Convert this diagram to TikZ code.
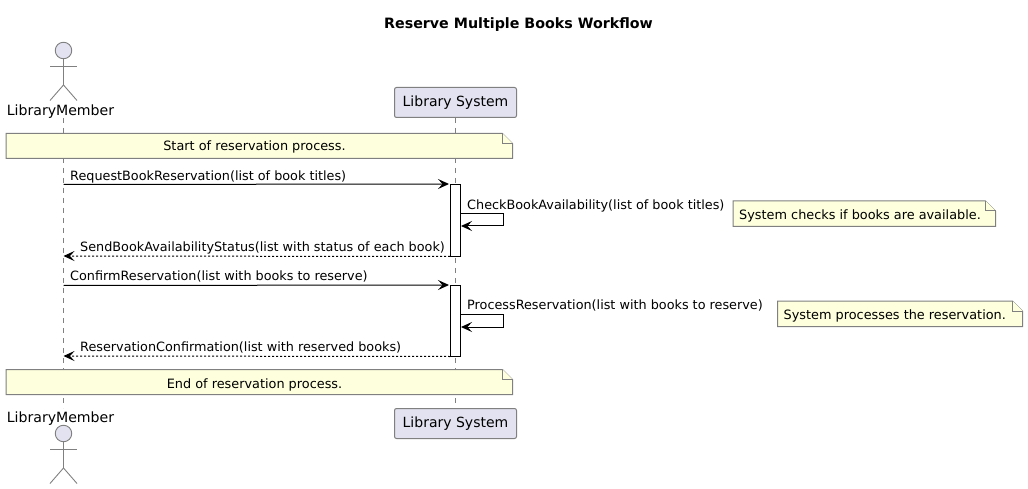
\documentclass[tikz,border=0pt]{standalone}
\usepackage{fontspec}
\setmainfont{DejaVu Sans}
\usetikzlibrary{arrows.meta}
\definecolor{partfill}{HTML}{E2E2F0}
\definecolor{notefill}{HTML}{FEFFDD}
\definecolor{edgegray}{HTML}{808080}
\tikzset{
  lifeline/.style={draw=edgegray,line width=0.9pt,dash pattern=on 5pt off 5pt},
  partbox/.style={draw=edgegray,fill=partfill,line width=1pt,rounded corners=2pt,minimum width=122pt,minimum height=30pt,inner sep=0pt,text depth=3pt,text height=11pt,font=\fontsize{14}{16}\selectfont},
  actorname/.style={inner sep=0pt,font=\fontsize{14.1}{16}\selectfont},
  limb/.style={draw=edgegray,line width=0.9pt},
  notebody/.style={draw=edgegray,fill=notefill,line width=1pt},
  notetext/.style={inner sep=0pt,anchor=base,font=\fontsize{12.85}{15}\selectfont},
  msglabel/.style={inner sep=0pt,anchor=base west,font=\fontsize{12.8}{15}\selectfont},
  activation/.style={draw=black,fill=white,line width=1pt,minimum width=10pt,inner sep=0pt},
  msg/.style={draw=black,line width=1pt,-{Stealth[length=11pt,width=10pt,inset=4.5pt]}},
  reply/.style={msg,dash pattern=on 2pt off 2pt},
}
% a stick figure, #1 is the y of the head
\newcommand{\stickman}[3]{
  \node[circle,draw=edgegray,fill=partfill,line width=0.9pt,minimum size=16.5pt,inner sep=0pt] (#2) at (63.5,#1) {};
  \coordinate (#3) at (63.5,#1+34.5);
  \draw[limb] (#2) -- (#3);
  \draw[limb] (50,#1+15.5) -- (77,#1+15.5);
  \draw[limb] (#3) -- ++(-13.5,15.5);
  \draw[limb] (#3) -- ++(13.5,15.5);
}
% a note with a folded corner: left, top, right, bottom, name
\newcommand{\notebox}[5]{
  \draw[notebody] (#1,#2) -- (#3-10,#2) -- (#3,#2+10) -- (#3,#4) -- (#1,#4) -- cycle;
  \draw[notebody] (#3-10,#2) -- (#3-10,#2+10) -- (#3,#2+10);
  \coordinate (#5) at ({(#1+#3)/2},#2);
}
\begin{document}
\begin{tikzpicture}[x=1pt,y=-1pt]
\useasboundingbox (0,0) rectangle (1028,489);
\node[inner sep=0pt,anchor=base,font=\fontsize{14.25}{16}\selectfont\bfseries] (title) at (518.5,28.5) {Reserve Multiple Books Workflow};

% participants
\node[actorname] (memberTop) at (60.5,112) {LibraryMember};
\node[actorname] (memberBot) at (60.5,419) {LibraryMember};
\node[partbox] (systemTop) at (455.5,102.5) {Library System};
\node[partbox] (systemBot) at (455.5,423.5) {Library System};
\coordinate (memberStart) at (63.5,118);
\coordinate (memberEnd) at (63.5,408);

% lifelines
\draw[lifeline] (memberStart) -- (memberEnd);
\draw[lifeline] (systemTop.south) -- (systemBot.north);
\stickman{50.5}{headTop}{hipTop}
\stickman{433.5}{headBot}{hipBot}

% notes
\notebox{6}{133.5}{512.5}{158.5}{noteStart}
\notebox{6}{369.5}{512.5}{394.5}{noteEnd}
\notebox{733}{201}{995.5}{226.5}{noteCheck}
\notebox{777.5}{301}{1022.5}{326.5}{noteProcess}
\node[notetext] at (254.5,151) {Start of reservation process.};
\node[notetext] at (254.5,388) {End of reservation process.};
\node[notetext,anchor=base west] at (739,219) {System checks if books are available.};
\node[notetext,anchor=base west] at (783.5,319) {System processes the reservation.};

% activations
\node[activation,minimum height=71.5pt] (activeOne) at (455.5,220.25) {};
\node[activation,minimum height=70.5pt] (activeTwo) at (455.5,320.75) {};

% messages
\coordinate (reqFrom) at (63.5,184.5);
\coordinate (repTo) at (63.5,256);
\coordinate (confFrom) at (63.5,285.5);
\coordinate (doneTo) at (63.5,356);
\draw[msg,shorten >=1pt] (reqFrom) -- (activeOne.north west);
\draw[msg] (activeOne.east |- 0,213.5) -- ++(42,0) -- ++(0,12.5) -- (activeOne.east |- 0,226);
\draw[reply] (activeOne.south west) -- (repTo);
\draw[msg,shorten >=1pt] (confFrom) -- (activeTwo.north west);
\draw[msg] (activeTwo.east |- 0,314) -- ++(42,0) -- ++(0,13) -- (activeTwo.east |- 0,327);
\draw[reply] (activeTwo.south west) -- (doneTo);

\node[msglabel] at (70,180.5) {RequestBookReservation(list of book titles)};
\node[msglabel] at (467,209.5) {CheckBookAvailability(list of book titles)};
\node[msglabel] at (80,251.5) {SendBookAvailabilityStatus(list with status of each book)};
\node[msglabel] at (70,280.5) {ConfirmReservation(list with books to reserve)};
\node[msglabel] at (467,309.5) {ProcessReservation(list with books to reserve)};
\node[msglabel] at (80,351.5) {ReservationConfirmation(list with reserved books)};
\end{tikzpicture}
\end{document}
